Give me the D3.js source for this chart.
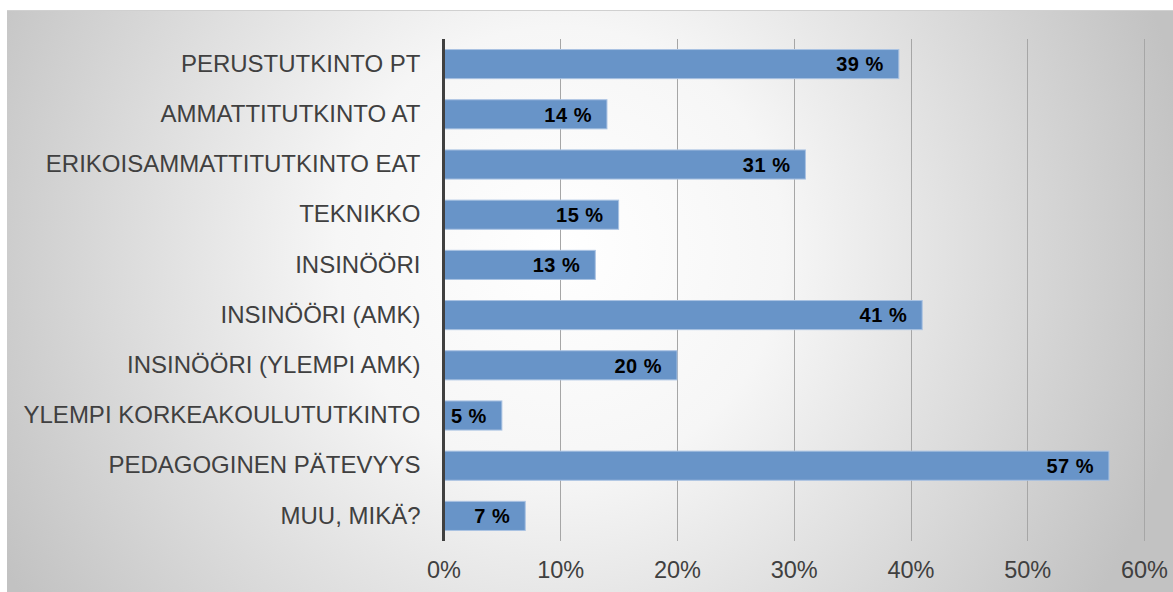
<!DOCTYPE html>
<html>
<head>
<meta charset="utf-8">
<script src="https://cdn.jsdelivr.net/npm/d3@7"></script>
<style>
  body { margin: 0; background: #fff; }
  svg { display: block; font-family: "Liberation Sans", Arial, sans-serif; }
</style>
</head>
<body>
<svg id="chart" width="1173" height="592"></svg>
<script>
// data
var categories = [
  "PERUSTUTKINTO PT",
  "AMMATTITUTKINTO AT",
  "ERIKOISAMMATTITUTKINTO EAT",
  "TEKNIKKO",
  "INSINÖÖRI",
  "INSINÖÖRI (AMK)",
  "INSINÖÖRI (YLEMPI AMK)",
  "YLEMPI KORKEAKOULUTUTKINTO",
  "PEDAGOGINEN PÄTEVYYS",
  "MUU, MIKÄ?"
]
var values = [39, 14, 31, 15, 13, 41, 20, 5, 57, 7]
var ticks = [0, 10, 20, 30, 40, 50, 60]

var W = 1173, H = 592
var svg = d3.select("#chart")

// background panel with radial gradient
var defs = svg.append("defs")
var grad = defs.append("radialGradient")
  .attr("id", "bg")
  .attr("gradientUnits", "userSpaceOnUse")
  .attr("cx", 560).attr("cy", 250).attr("r", 640)
grad.append("stop").attr("offset", "0").attr("stop-color", "#ffffff")
grad.append("stop").attr("offset", "0.35").attr("stop-color", "#f6f6f6")
grad.append("stop").attr("offset", "1").attr("stop-color", "#c2c2c2")

svg.append("rect")
  .attr("x", 7).attr("y", 10)
  .attr("width", W - 7).attr("height", H - 10)
  .attr("fill", "url(#bg)")
svg.append("line")
  .attr("x1", 7).attr("x2", W).attr("y1", 10.5).attr("y2", 10.5)
  .attr("stroke", "#d0d0d0")

var margin = { left: 443.5, right: 29, top: 39, bottom: 51 }

var x = d3.scaleLinear()
  .domain([0, 60])
  .range([margin.left, W - margin.right])

var y = d3.scaleBand()
  .domain(categories)
  .range([margin.top, H - margin.bottom])
  .paddingInner(0.42)
  .paddingOuter(0.21)

// gridlines
svg.append("g")
  .selectAll("line")
  .data(ticks.slice(1))
  .enter().append("line")
  .attr("x1", function(d) { return Math.round(x(d)) + 0.5 })
  .attr("x2", function(d) { return Math.round(x(d)) + 0.5 })
  .attr("y1", margin.top)
  .attr("y2", H - margin.bottom)
  .attr("stroke", "#a6a6a6")
  .attr("stroke-width", 1)

// bars
svg.append("g")
  .selectAll("rect")
  .data(values)
  .enter().append("rect")
  .attr("x", x(0))
  .attr("y", function(d, i) { return y(categories[i]) })
  .attr("width", function(d) { return x(d) - x(0) })
  .attr("height", y.bandwidth())
  .attr("fill", "#6894c8")
  .attr("stroke", "#a9c2e2")
  .attr("stroke-width", 1)

// value labels, inside end
svg.append("g")
  .selectAll("text")
  .data(values)
  .enter().append("text")
  .attr("x", function(d) { return x(d) - 15 })
  .attr("y", function(d, i) { return y(categories[i]) + y.bandwidth() / 2 })
  .attr("dy", "0.36em")
  .attr("text-anchor", "end")
  .attr("font-size", 20)
  .attr("letter-spacing", 0.5)
  .attr("font-weight", "bold")
  .attr("fill", "#000")
  .text(function(d) { return d + " %" })

// category axis
var yAxis = svg.append("g")
  .attr("transform", "translate(" + x(0) + ",0)")
  .call(d3.axisLeft(y).tickSize(0).tickPadding(23))
yAxis.select(".domain").remove()
yAxis.selectAll("text")
  .attr("font-size", 24)
  .attr("fill", "#404040")
  .attr("font-family", "Liberation Sans, Arial, sans-serif")

svg.append("line")
  .attr("x1", x(0)).attr("x2", x(0))
  .attr("y1", margin.top).attr("y2", H - margin.bottom)
  .attr("stroke", "#404040")
  .attr("stroke-width", 3)

// value axis
var xAxis = svg.append("g")
  .attr("transform", "translate(0," + (H - margin.bottom) + ")")
  .call(d3.axisBottom(x).tickValues(ticks).tickSize(0).tickPadding(20)
    .tickFormat(function(d) { return d + "%" }))
xAxis.select(".domain").remove()
xAxis.selectAll("text")
  .attr("font-size", 23.5)
  .attr("fill", "#404040")
  .attr("font-family", "Liberation Sans, Arial, sans-serif")
</script>
</body>
</html>
